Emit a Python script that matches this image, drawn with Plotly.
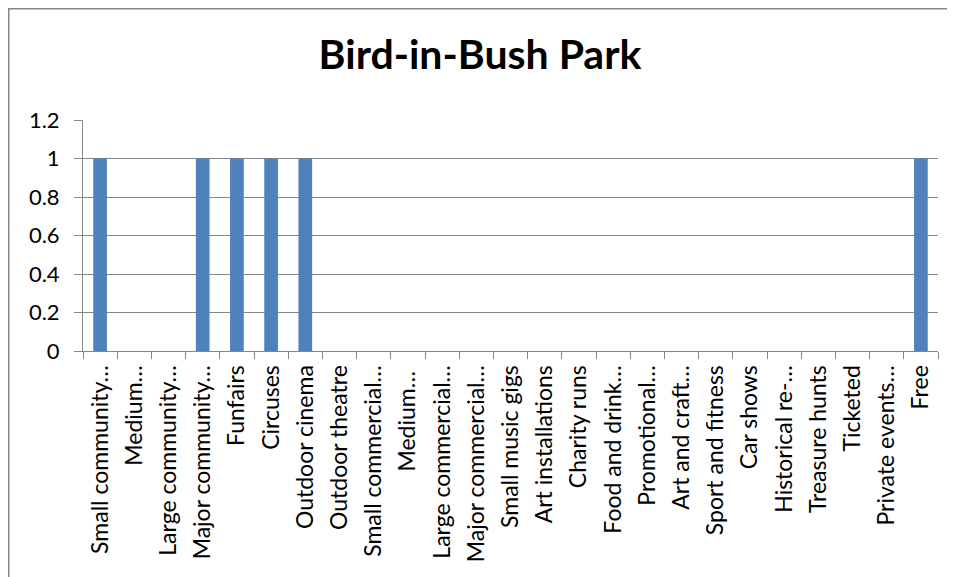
import plotly.graph_objects as go

categories = [
    "Small community…", "Medium…", "Large community…", "Major community…",
    "Funfairs", "Circuses", "Outdoor cinema", "Outdoor theatre",
    "Small commercial…", "Medium… ", "Large commercial…", "Major commercial…",
    "Small music gigs", "Art installations", "Charity runs", "Food and drink…",
    "Promotional…", "Art and craft…", "Sport and fitness", "Car shows",
    "Historical re-…", "Treasure hunts", "Ticketed", "Private events…", "Free",
]
values = [1, 0, 0, 1, 1, 1, 1, 0, 0, 0, 0, 0, 0, 0, 0, 0, 0, 0, 0, 0, 0, 0, 0, 0, 1]
y_ticks = [0, 0.2, 0.4, 0.6, 0.8, 1, 1.2]
y_ticktext = ["0", "0.2", "0.4", "0.6", "0.8", "1", "1.2"]

W, H = 947, 569
ml, mr, mt, mb = 75, 17, 112, 226
pw, ph = W - ml - mr, H - mt - mb

fig = go.Figure(go.Bar(x=categories, y=values, marker_color="#4F81BD",
                       marker_line_width=0))

grid = "#868686"
fnt = "Lato, Noto Sans, sans-serif"
fig.update_layout(
    width=W, height=H,
    margin=dict(l=ml, r=mr, t=mt, b=mb, autoexpand=False),
    paper_bgcolor="white", plot_bgcolor="white",
    bargap=0.6,
    showlegend=False,
    font=dict(family=fnt, color="black"),
    title=dict(text="<b>Bird-in-Bush Park</b>", x=472 / W, xanchor="center",
               xref="container", y=1 - 47 / H, yanchor="middle",
               font=dict(size=41, family=fnt, color="black")),
    xaxis=dict(type="category", tickangle=-90, tickfont=dict(size=23),
               showline=True, linecolor=grid, linewidth=1,
               ticks="outside", tickson="boundaries", ticklen=7, tickcolor=grid,
               ticklabelstandoff=4, automargin=False,
               showgrid=False, fixedrange=True),
    yaxis=dict(range=[0, 1.2], tickvals=y_ticks, ticktext=y_ticktext,
               tickfont=dict(size=22),
               showline=True, linecolor=grid, linewidth=1,
               ticks="outside", ticklen=8, tickcolor=grid,
               ticklabelstandoff=10, automargin=False,
               showgrid=True, gridcolor=grid, gridwidth=1, zeroline=False,
               fixedrange=True),
    shapes=[dict(type="rect", xref="paper", yref="paper",
                 x0=(0.5 - ml) / pw, x1=2, y0=-2, y1=1 + (mt - 0.5) / ph,
                 line=dict(color="#888888", width=2), fillcolor="rgba(0,0,0,0)",
                 layer="below")],
)

fig.write_html("out.html")
